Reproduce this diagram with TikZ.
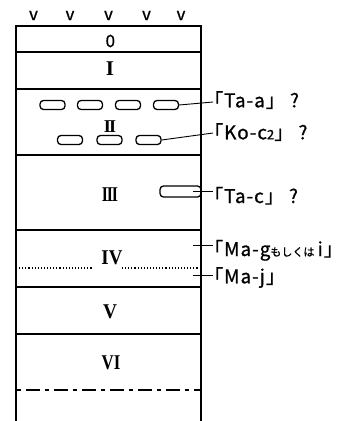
\documentclass[tikz,border=0pt]{standalone}
\usepackage{fontspec}
\usepackage{graphicx}
\newfontfamily\jp[FakeBold=0.8]{Noto Sans CJK JP}
\newfontfamily\jpsp[LetterSpace=5,FakeBold=0.8]{Noto Sans CJK JP}
\newfontfamily\romfont{Liberation Serif}
\newcommand{\narrow}[2]{\scalebox{#1}[1]{#2}}
\begin{document}
\begin{tikzpicture}[x=1pt,y=-1pt,
  wall/.style={line width=1.8pt},
  lay/.style={inner sep=0pt, font=\romfont\bfseries\fontsize{21}{21}\selectfont},
  zero/.style={inner sep=0pt, font=\jp\fontsize{17}{17}\selectfont},
  vee/.style={inner sep=0pt, font=\jp\fontsize{17}{17}\selectfont},
  pebble/.style={draw, line width=1.3pt, rounded corners=3.5pt, minimum width=25pt, minimum height=9pt, inner sep=0pt},
  lbl/.style={anchor=base west, inner sep=0pt, font=\jpsp\fontsize{19}{19}\selectfont},
  lead/.style={line width=0.9pt}]
\useasboundingbox (0,0) rectangle (342,421);
% column walls and boundaries
\draw[wall] (16,421) -- (16,26) -- (201,26) -- (201,421);
\foreach \yy in {52,89,155,230,287,334}
  \draw[wall] (16,\yy) -- (201,\yy);
\draw[line width=1.1pt, dotted] (16,268) -- (93,268);
\draw[line width=1.1pt, dotted] (122,268) -- (201,268);
\draw[line width=1.4pt, dash pattern=on 4pt off 5pt on 14pt off 5pt] (17,390) -- (201,390);
% surface marks
\foreach \xx/\n in {33.5/a,70/b,108.5/c,146.5/d,181/e}
  \node[vee] (v\n) at (\xx,15.5) {v};
% layer names
\node[zero] (L0) at (110.3,41) {0};
\node[lay] (L1) at (110,69) {I};
\node[lay, font=\romfont\bfseries\fontsize{18}{18}\selectfont] (L2) at (110,126.7) {I\kern-1.8pt I};
\node[lay] (L3) at (110,195) {\narrow{0.75}{I\kern-1.5pt I\kern-1.5pt I}};
\node[lay] (L4) at (112,257.5) {\narrow{0.9}{IV}};
\node[lay] (L5) at (110,311.5) {\narrow{0.92}{V}};
\node[lay] (L6) at (111,362.5) {\narrow{0.8}{VI}};
% pebbles
\node[pebble] (pa1) at (52.5,105) {};
\node[pebble] (pa2) at (90,105) {};
\node[pebble] (pa3) at (128,105) {};
\node[pebble] (pa4) at (166,105) {};
\node[pebble] (pb1) at (70,140) {};
\node[pebble] (pb2) at (109.5,140) {};
\node[pebble] (pb3) at (148.5,140) {};
\node[pebble, minimum width=41pt, minimum height=11pt] (pc) at (180.5,191.5) {};
% labels
\node[lbl] (ta) at (204,107.3) {「Ta-a」 ?};
\node[lbl] (ko) at (204,139.3) {「Ko-c{\fontsize{13}{13}\selectfont 2}」 ?};
\node[lbl] (tc) at (204,203) {「Ta-c」 ?};
\node[lbl] (mg) at (204,256) {「Ma-g{\jp\fontsize{11}{11}\selectfont もしくは}\,i」};
\node[lbl] (mj) at (204,283.3) {「Ma-j」};
% leader ends
\coordinate (ta-in) at (213,102);
\coordinate (ko-in) at (213,133);
\coordinate (tc-in) at (213,191.7);
\coordinate (mg-in) at (213,245);
\coordinate (mj-in) at (213,275);
\coordinate (cc) at (193,191.7);
\coordinate (cg) at (193,245);
\coordinate (cj) at (193,275);
% leaders
\draw[lead] (pa4.east) -- (ta-in);
\draw[lead] (pb3.east) -- (ko-in);
\draw[lead] (cc) -- (tc-in);
\draw[lead] (cg) -- (mg-in);
\draw[lead] (cj) -- (mj-in);
\end{tikzpicture}
\end{document}
